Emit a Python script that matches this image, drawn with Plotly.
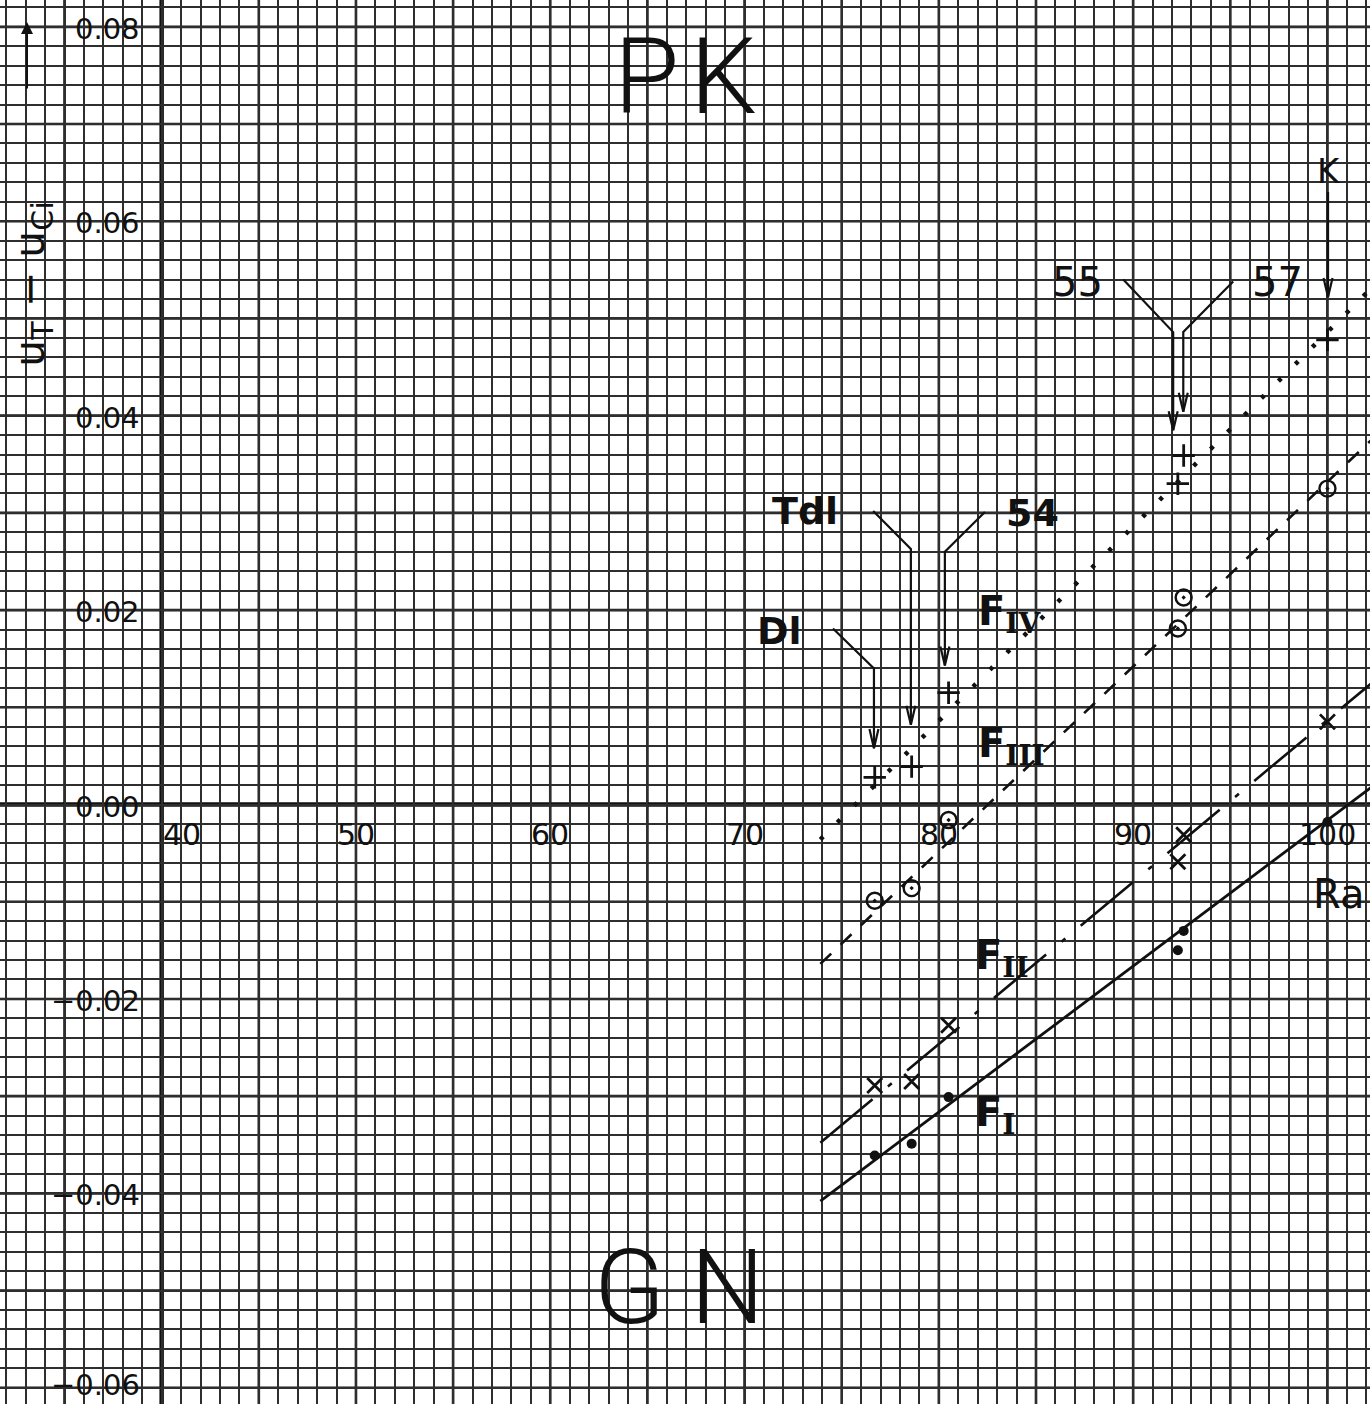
import numpy as np
import plotly.graph_objects as go

# ---- measured values -------------------------------------------------------
ra = [76.7, 78.6, 80.5, 92.3, 92.6, 100.0]          # abscissa Ra of the six objects
f4_plus = [0.0028, 0.0039, 0.0115, 0.0330, 0.0359, 0.0478]
f3_circ = [-0.0099, -0.0086, -0.0016, 0.0181, 0.0213, 0.0325]
f2_cross = [-0.0289, -0.0285, -0.0227, -0.0059, -0.0031, 0.0085]
f1_dot = [-0.0361, -0.0349, -0.0301, -0.0150, -0.0130, -0.0018]

# straight-line fits (start / end points)
fit_x = [73.9, 103.0]
fit_f1 = [-0.0408, 0.0029]
fit_f2 = [-0.0348, 0.0137]
fit_f3 = [-0.0164, 0.0389]
fit_f4 = [-0.0036, 0.0546]

x_tick_vals = [40, 50, 60, 70, 80, 90, 100]
x_tick_text = ["40", "50", "60", "70", "80", "90", "100"]
y_tick_vals = [0.08, 0.06, 0.04, 0.02, 0.0, -0.02, -0.04, -0.06]
y_tick_text = ["0.08", "0.06", "0.04", "0.02", "0.00", "-0.02", "-0.04", "-0.06"]

# leader lines for the object names: (label, label x, label y, font size, path points)
leaders = [
    ("Dl", 71.82, 0.0179, 38, [(74.55, 0.0181), (76.66, 0.0140), (76.66, 0.0058)]),
    ("Tdl", 73.11, 0.0302, 38, [(76.62, 0.0302), (78.56, 0.0263), (78.56, 0.0082)]),
    ("54", 84.84, 0.0300, 38, [(82.37, 0.0301), (80.31, 0.0260), (80.31, 0.0143)]),
    ("55", 87.16, 0.0537, 40, [(89.49, 0.0540), (92.06, 0.0486), (92.06, 0.0385)]),
    ("57", 97.45, 0.0537, 40, [(95.15, 0.0538), (92.58, 0.0486), (92.58, 0.0404)]),
    ("K", 100.08, 0.0652, 34, [(100.03, 0.0630), (100.03, 0.0522)]),
]

X_RANGE = [31.68, 102.19]
Y_RANGE = [-0.06167, 0.08276]

INK = "#111111"
FONT = "DejaVu Sans"

fig = go.Figure()

# fitted lines
fig.add_trace(go.Scatter(x=fit_x, y=fit_f1, mode="lines",
                         line=dict(color=INK, width=2.8)))
fig.add_trace(go.Scatter(x=fit_x, y=fit_f2, mode="lines",
                         line=dict(color=INK, width=2.6, dash="68px,20px,5px,20px")))
fig.add_trace(go.Scatter(x=fit_x, y=fit_f3, mode="lines",
                         line=dict(color=INK, width=2.6, dash="15px,13px")))
fig.add_trace(go.Scatter(x=fit_x, y=fit_f4, mode="lines",
                         line=dict(color=INK, width=4.5, dash="4px,20px")))

# data points
fig.add_trace(go.Scatter(x=ra, y=f4_plus, mode="markers",
                         marker=dict(symbol="cross-thin", size=16,
                                     line=dict(color=INK, width=2.8))))
fig.add_trace(go.Scatter(x=ra, y=f3_circ, mode="markers",
                         marker=dict(symbol="circle-open-dot", size=16, color=INK,
                                     line=dict(color=INK, width=2.4))))
fig.add_trace(go.Scatter(x=ra, y=f2_cross, mode="markers",
                         marker=dict(symbol="x-thin", size=15,
                                     line=dict(color=INK, width=2.8))))
fig.add_trace(go.Scatter(x=ra, y=f1_dot, mode="markers",
                         marker=dict(symbol="circle", size=10, color=INK)))

# leader lines with narrow arrowheads
head_dx = 4.5 / 19.43          # half-width of the arrowhead in x units
head_dy = 19 / 9720            # length of the arrowhead in y units
for name, lx, ly, fsize, path in leaders:
    xs = [p[0] for p in path]
    ys = [p[1] for p in path]
    tx, ty = path[-1]
    xs += [None, tx - head_dx, tx, tx + head_dx]
    ys += [None, ty + head_dy, ty, ty + head_dy]
    fig.add_trace(go.Scatter(x=xs, y=ys, mode="lines",
                             line=dict(color=INK, width=2.2)))
    bold = name in ("Dl", "Tdl", "54")
    fig.add_annotation(x=lx, y=ly, text=name, showarrow=False,
                       font=dict(family=FONT, size=fsize, color=INK,
                                 weight="bold" if bold else "normal"))

# tick labels
for v, t in zip(x_tick_vals, x_tick_text):
    fig.add_annotation(x=v + (1.04 if v == 40 else 0), y=-0.0031, text=t,
                       showarrow=False,
                       font=dict(family=FONT, size=30, color=INK))
for v, t in zip(y_tick_vals, y_tick_text):
    fig.add_annotation(x=38.99, y=v, text=t.replace("-", "\u2212"), showarrow=False,
                       xanchor="right", yshift=3 if v < -0.05 else -2,
                       font=dict(family=FONT, size=29, color=INK))

# axis titles and curve labels
fig.add_annotation(x=33.35, y=0.0536, text="u<sub>T</sub> \u2212 u<sub>Ci</sub>",
                   textangle=-90, showarrow=False,
                   font=dict(family=FONT, size=43, color=INK))
fig.add_annotation(x=33.07, y=0.0805, ax=33.07, ay=0.0735, axref="x", ayref="y",
                   text="", showarrow=True, arrowhead=2, arrowsize=1.2,
                   arrowwidth=2, arrowcolor=INK)
fig.add_annotation(x=100.55, y=-0.0092, text="Ra", showarrow=False,
                   font=dict(family=FONT, size=40, color=INK))

ser = "DejaVu Serif"
for txt, sub, fx, fy in [("F", "IV", 81.91, 0.0196), ("F", "III", 81.91, 0.0060),
                         ("F", "II", 81.76, -0.0158), ("F", "I", 81.76, -0.0319)]:
    fig.add_annotation(
        x=fx, y=fy, xanchor="left", showarrow=False,
        text=f"{txt}<sub><span style='font-family:{ser}'>{sub}</span></sub>",
        font=dict(family=FONT, size=40, color=INK, weight="bold"))

fig.add_annotation(x=66.97, y=0.0748, text="P\u200aK", showarrow=False,
                   font=dict(family="Roboto", size=106, color=INK, weight=300))
fig.add_annotation(x=66.62, y=-0.0497, text="G N", showarrow=False,
                   font=dict(family="Roboto", size=104, color=INK, weight=300))

# heavier graph-paper lines every 5 units in x and every 0.01 in y
for gx in np.arange(35, 105, 5):
    fig.add_shape(type="line", xref="x", yref="paper", x0=gx, x1=gx, y0=0, y1=1,
                  line=dict(color="#1a1a1a", width=2.6), layer="between")
for gy in np.round(np.arange(-0.06, 0.0801, 0.01), 3):
    fig.add_shape(type="line", xref="paper", yref="y", x0=0, x1=1, y0=gy, y1=gy,
                  line=dict(color="#1a1a1a", width=2.6), layer="between")

# heavy axes through (40, 0)
fig.add_shape(type="line", xref="x", yref="paper", x0=40, x1=40, y0=0, y1=1,
              line=dict(color=INK, width=4.5), layer="between")
fig.add_shape(type="line", xref="paper", yref="y", x0=0, x1=1, y0=0, y1=0,
              line=dict(color=INK, width=4.5), layer="between")

# fine graph-paper lines: one per unit in x, one per 0.002 in y
axis_common = dict(showticklabels=False, ticks="", zeroline=False, showline=False,
                   showgrid=True, gridcolor="#2e2e2e", gridwidth=1.6)
fig.update_xaxes(range=X_RANGE, tick0=40, dtick=1, **axis_common)
fig.update_yaxes(range=Y_RANGE, tick0=0, dtick=0.002, **axis_common)

fig.update_layout(width=1370, height=1404, margin=dict(l=0, r=0, t=0, b=0),
                  paper_bgcolor="white", plot_bgcolor="white", showlegend=False)

fig.write_html("out.html")
